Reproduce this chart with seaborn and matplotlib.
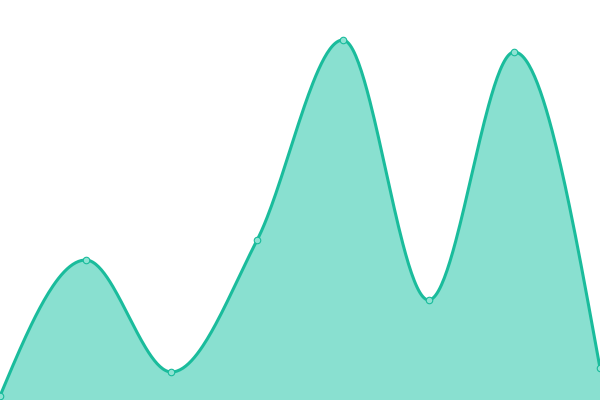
import numpy as np
import pandas as pd
import matplotlib
matplotlib.use("Agg")
import matplotlib.pyplot as plt
import seaborn as sns

# values (scale 0-100)
x_idx = [0, 1, 2, 3, 4, 5, 6, 7]
values = [1, 35, 7, 40, 90, 25, 87, 8]

LINE = "#1abc9c"
FILL = "#89e0d0"
DOT = "#8ee3d3"


def monotone_curve(x, y, n=60):
    """Monotone cubic (d3 curveMonotoneX style) through the points."""
    x = np.asarray(x, float)
    y = np.asarray(y, float)
    h = np.diff(x)
    s = np.diff(y) / h
    t = np.zeros_like(y)
    for i in range(1, len(y) - 1):
        p = (s[i - 1] * h[i] + s[i] * h[i - 1]) / (h[i - 1] + h[i])
        t[i] = (np.sign(s[i - 1]) + np.sign(s[i])) * min(abs(s[i - 1]), abs(s[i]), 0.5 * abs(p))
    t[0] = (3 * s[0] - t[1]) / 2
    t[-1] = (3 * s[-1] - t[-2]) / 2
    xs, ys = [], []
    for i in range(len(h)):
        u = np.linspace(0, 1, n, endpoint=(i == len(h) - 1))
        h00 = 2 * u**3 - 3 * u**2 + 1
        h10 = u**3 - 2 * u**2 + u
        h01 = -2 * u**3 + 3 * u**2
        h11 = u**3 - u**2
        xs.append(x[i] + u * h[i])
        ys.append(h00 * y[i] + h10 * h[i] * t[i] + h01 * y[i + 1] + h11 * h[i] * t[i + 1])
    return np.concatenate(xs), np.concatenate(ys)


df = pd.DataFrame({"x": x_idx, "value": values})
cx, cy = monotone_curve(df["x"], df["value"])
curve = pd.DataFrame({"x": cx, "value": cy})

sns.set_style("white")
fig = plt.figure(figsize=(6, 4), dpi=100)
ax = fig.add_axes([0, 0, 1, 1])

ax.fill_between(curve["x"], curve["value"], 0, color=FILL, linewidth=0)
sns.lineplot(data=curve, x="x", y="value", ax=ax, color=LINE, linewidth=2.2, sort=False)
sns.scatterplot(data=df, x="x", y="value", ax=ax, s=22, color=DOT,
                edgecolor=LINE, linewidth=0.8, zorder=5, clip_on=True)

ax.set_xlim(0, 7)
ax.set_ylim(0, 100)
ax.axis("off")

fig.savefig("out.png", dpi=100)
